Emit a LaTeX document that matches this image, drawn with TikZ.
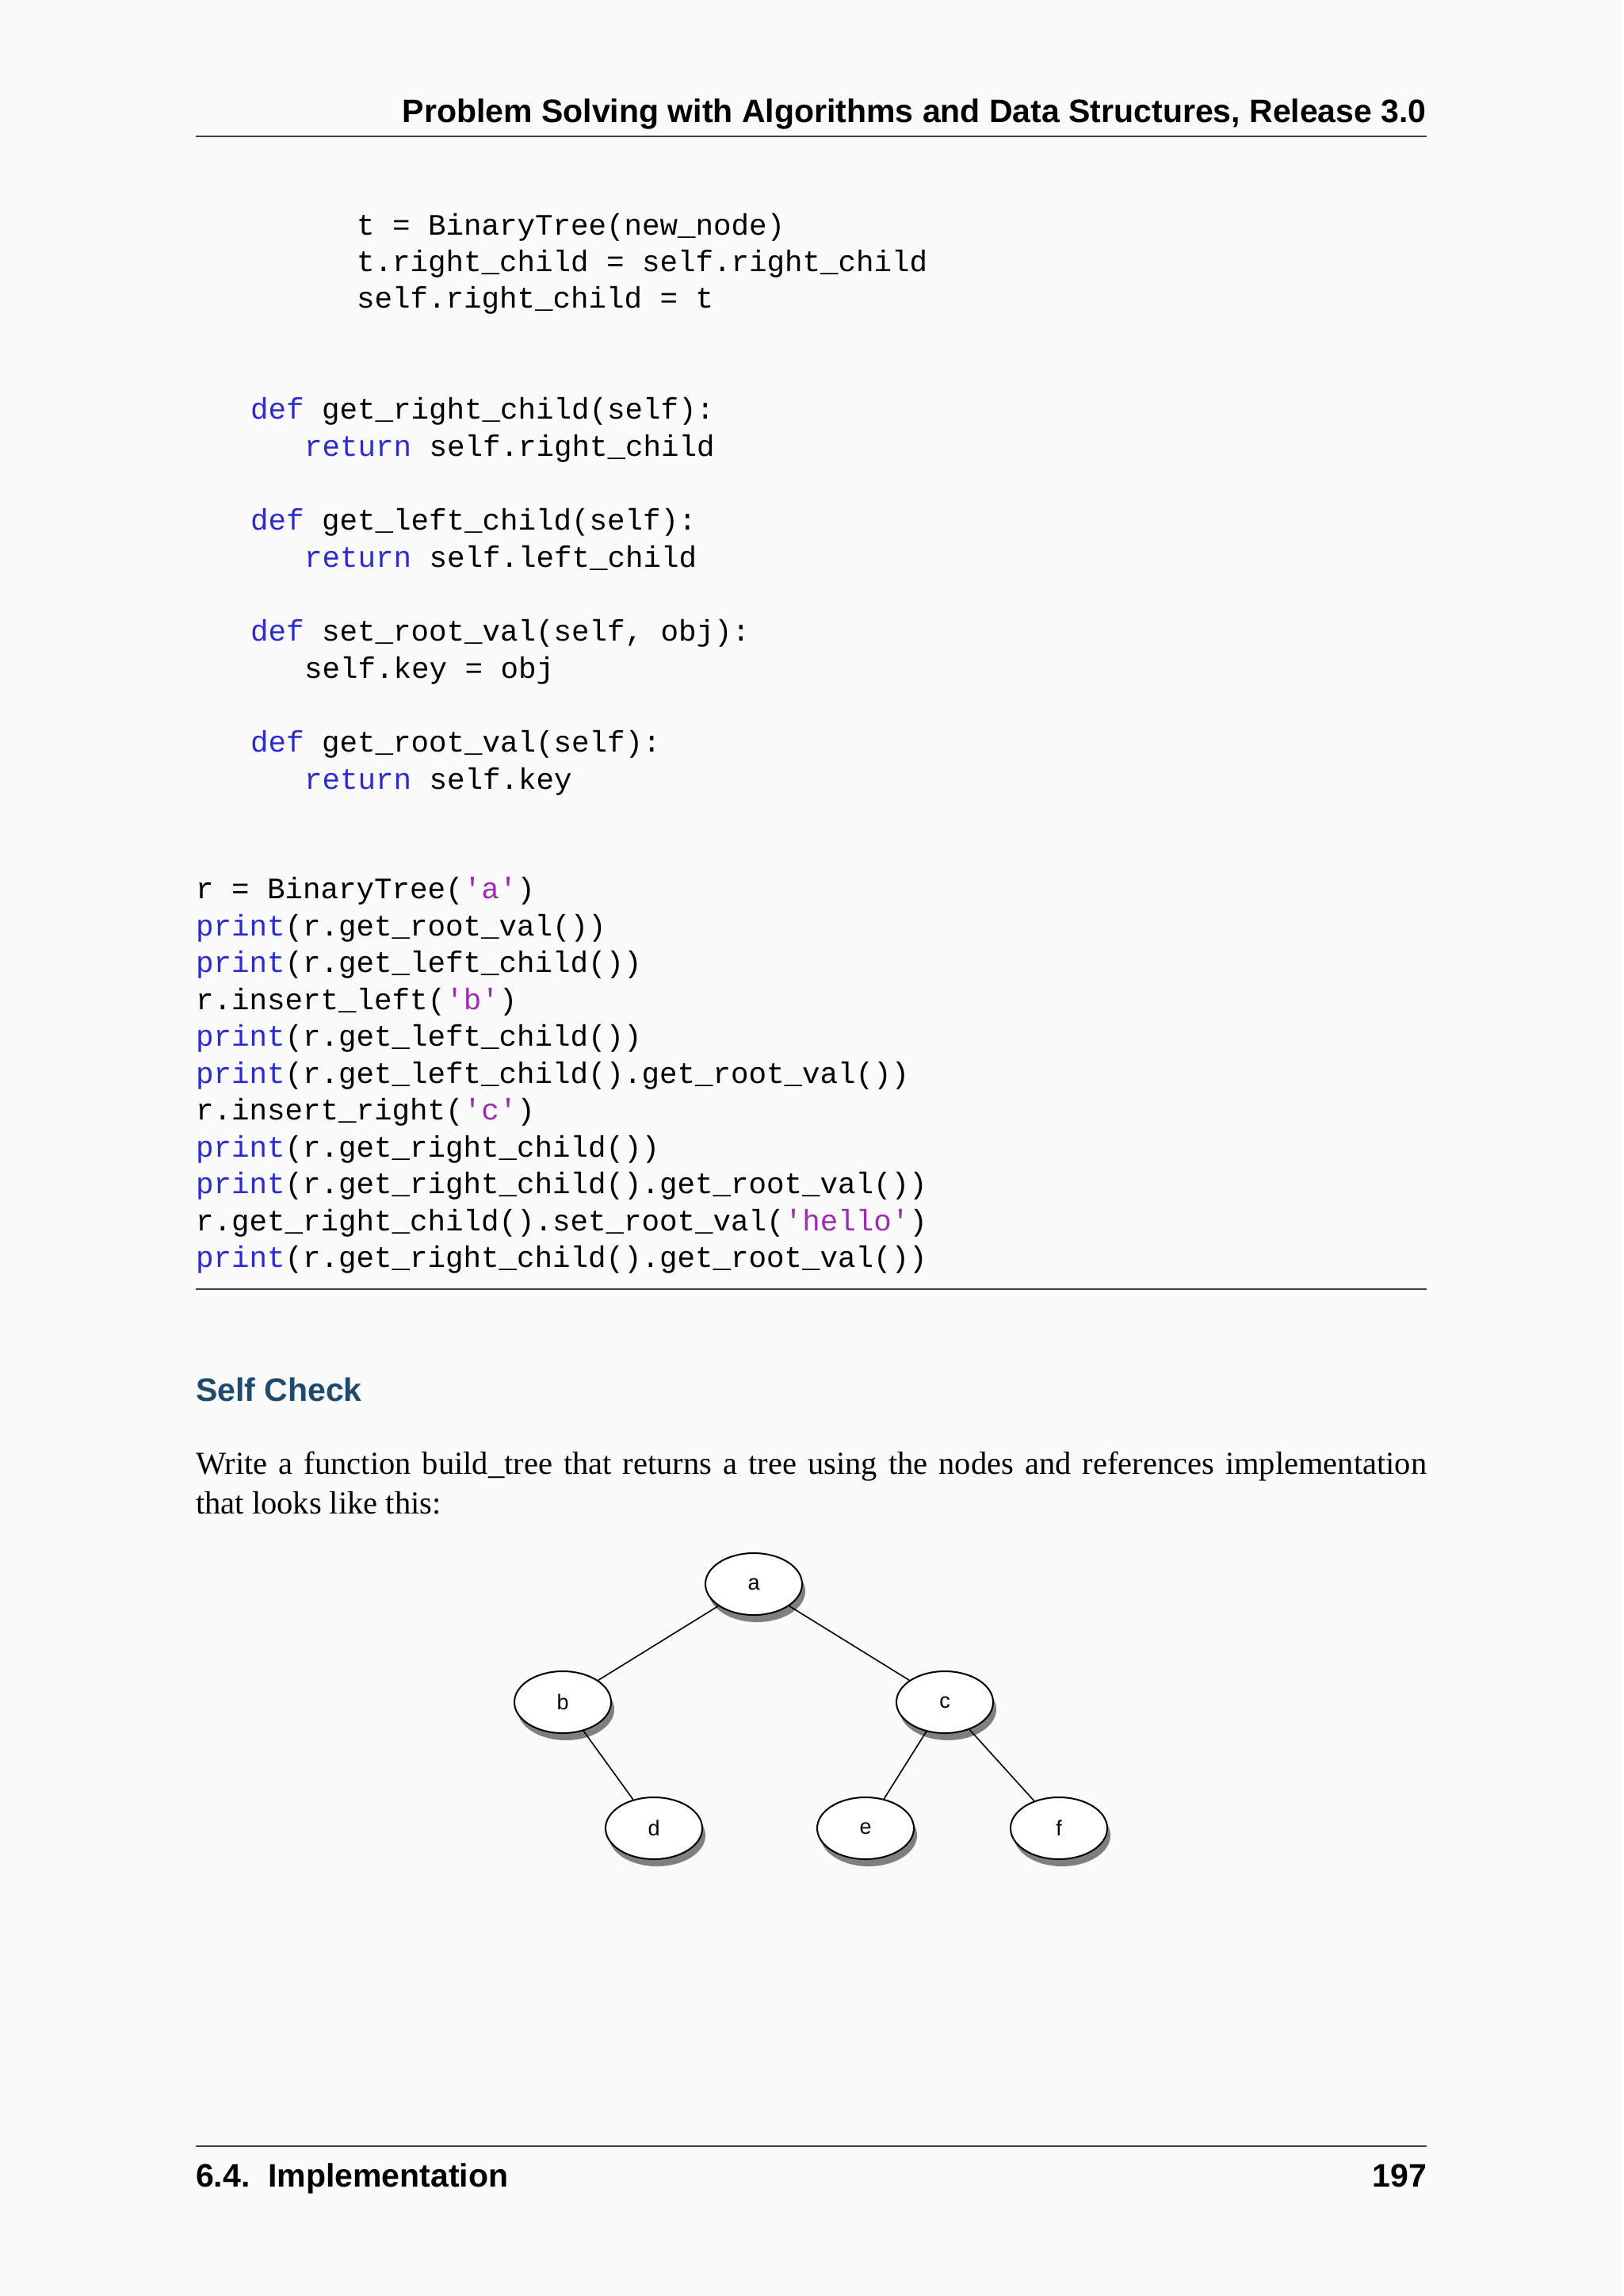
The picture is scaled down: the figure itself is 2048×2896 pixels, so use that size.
\documentclass[tikz,border=0pt]{standalone}
\usepackage{fontspec}
\setmainfont{Liberation Serif}
\setsansfont{Liberation Sans}
\newfontfamily\codef{Liberation Mono}
\usetikzlibrary{shapes.geometric,shadows}
\definecolor{kw}{HTML}{2B2BCF}
\definecolor{strc}{HTML}{9A2DB0}
\definecolor{headc}{HTML}{1F4A6B}
\newcommand{\K}[1]{\textcolor{kw}{#1}}
\newcommand{\St}[1]{\textcolor{strc}{#1}}
\begin{document}
\begin{tikzpicture}[x=1pt,y=-1pt,
  code/.style={anchor=base west,inner sep=0pt,font=\codef\fontsize{37.5}{40}\selectfont},
  tnode/.style={ellipse,draw,line width=2pt,fill=white,minimum width=122pt,minimum height=78pt,inner sep=0pt,font=\sffamily\fontsize{27}{30}\selectfont,drop shadow={shadow xshift=4pt,shadow yshift=-9pt,opacity=0.7,fill=black!70}},
  edge/.style={line width=1.6pt}]
\fill[white!98!black] (0,0) rectangle (2048,2896);
\useasboundingbox (0,0) rectangle (2048,2896);
% header
\node[anchor=base east,inner sep=0pt,font=\sffamily\bfseries\fontsize{41}{48}\selectfont] (hdr) at (1800,154) {Problem Solving with Algorithms and Data Structures, Release 3.0};
\draw[line width=1.5pt,black!75] (247,172) -- (1800,172);
% code
\node[code] (c1) at (450,296) {t = BinaryTree(new\_node)};
\node[code] (c2) at (450,342) {t.right\_child = self.right\_child};
\node[code] (c3) at (450,388) {self.right\_child = t};
\node[code] (c4) at (316,528) {\K{def} get\_right\_child(self):};
\node[code] (c5) at (384,575) {\K{return} self.right\_child};
\node[code] (c6) at (316,668) {\K{def} get\_left\_child(self):};
\node[code] (c7) at (384,715) {\K{return} self.left\_child};
\node[code] (c8) at (316,808) {\K{def} set\_root\_val(self, obj):};
\node[code] (c9) at (384,855) {self.key = obj};
\node[code] (c10) at (316,948) {\K{def} get\_root\_val(self):};
\node[code] (c11) at (384,995) {\K{return} self.key};
\node[code] (d1) at (247,1133) {r = BinaryTree(\St{'a'})};
\node[code] (d2) at (247,1180) {\K{print}(r.get\_root\_val())};
\node[code] (d3) at (247,1226) {\K{print}(r.get\_left\_child())};
\node[code] (d4) at (247,1273) {r.insert\_left(\St{'b'})};
\node[code] (d5) at (247,1319) {\K{print}(r.get\_left\_child())};
\node[code] (d6) at (247,1366) {\K{print}(r.get\_left\_child().get\_root\_val())};
\node[code] (d7) at (247,1412) {r.insert\_right(\St{'c'})};
\node[code] (d8) at (247,1459) {\K{print}(r.get\_right\_child())};
\node[code] (d9) at (247,1505) {\K{print}(r.get\_right\_child().get\_root\_val())};
\node[code] (d10) at (247,1552) {r.get\_right\_child().set\_root\_val(\St{'hello'})};
\node[code] (d11) at (247,1598) {\K{print}(r.get\_right\_child().get\_root\_val())};
\draw[line width=1.5pt,black!75] (247,1626) -- (1800,1626);
% self check
\node[anchor=base west,inner sep=0pt,text=headc,font=\sffamily\bfseries\fontsize{41}{46}\selectfont] (sc) at (247,1767) {Self Check};
\node[anchor=north west,inner sep=0pt,text width=1553pt,align=justify,font=\fontsize{40.5}{50}\selectfont] (para) at (247,1831) {Write a function build\_tree that returns a tree using the nodes and references implementation\linebreak that looks like this:};
% tree
\node[tnode] (a) at (951,1998) {a};
\node[tnode] (b) at (710,2147) {b};
\node[tnode] (c) at (1192,2147) {c};
\node[tnode] (d) at (825,2306) {d};
\node[tnode] (e) at (1092,2306) {e};
\node[tnode] (f) at (1336,2306) {f};
\draw[edge] (a) -- (b);
\draw[edge] (a) -- (c);
\draw[edge] (b) -- (d);
\draw[edge] (c) -- (e);
\draw[edge] (c) -- (f);
% footer
\draw[line width=1.5pt,black!75] (247,2707) -- (1800,2707);
\node[anchor=base west,inner sep=0pt,font=\sffamily\bfseries\fontsize{41}{46}\selectfont] (ft) at (247,2758) {6.4.\ \ Implementation};
\node[anchor=base east,inner sep=0pt,font=\sffamily\bfseries\fontsize{41}{46}\selectfont] (pg) at (1800,2758) {197};
\end{tikzpicture}
\end{document}
